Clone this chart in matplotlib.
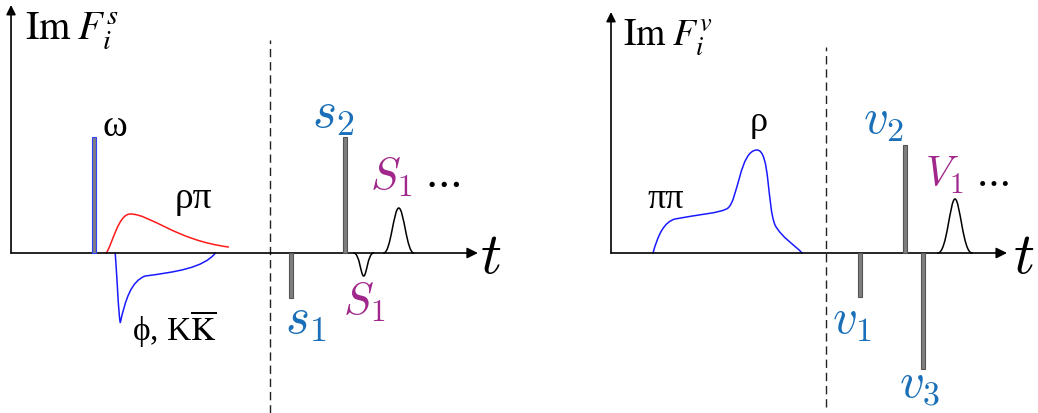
import matplotlib
matplotlib.use('Agg')
import matplotlib.pyplot as plt
from matplotlib.path import Path
from matplotlib.patches import PathPatch

BLUE_TXT = '#1a6fb8'
MAGENTA = '#a0288c'

# ---- scalar form factor panel (left) ----
# pole positions / residues (t, Im F)
s_pole_t = [8.3, 27.9, 33.3]
s_pole_h = [11.6, -4.5, 11.6]
s_pole_edge = ['#3040ff', '#555555', '#555555']

# rho-pi cut, bezier nodes (t, Im F)
rhopi_pts = [(9.5, 0.0), (10.1, 0.8), (10.7, 3.9), (11.9, 3.9),
             (13.9, 3.9), (16.4, 1.3), (21.7, 0.6)]
# phi, KKbar cut
phikk_pts = [(10.4, 0.0), (10.6, -2.7), (10.7, -5.7), (10.9, -7.0),
             (11.4, -4.7), (12.0, -2.8), (13.4, -2.3),
             (16.4, -1.9), (19.2, -1.5), (20.4, 0.0)]
# S1 resonance bumps
S1_dip_pts = [(34.2, 0.0), (34.8, 0.0), (34.9, -2.3), (35.2, -2.3),
              (35.5, -2.3), (35.6, 0.0), (36.2, 0.0)]
S1_bump_pts = [(37.2, 0.0), (37.9, 0.0), (38.2, 4.5), (38.7, 4.5),
               (39.2, 4.5), (39.5, 0.0), (40.2, 0.0)]

# ---- vector form factor panel (right) ----
v_pole_t = [24.9, 29.4, 31.2]
v_pole_h = [-4.4, 10.8, -11.6]

rho_pts = [(4.2, 0.0), (4.7, 1.8), (5.3, 3.1), (6.4, 3.4),
           (8.4, 3.8), (11.1, 4.0), (11.7, 4.5),
           (12.7, 5.3), (12.9, 10.3), (14.6, 10.3),
           (15.9, 10.3), (15.6, 4.8), (16.4, 2.8),
           (17.1, 1.5), (18.4, 0.8), (19.1, 0.0)]
V1_bump_pts = [(32.7, 0.0), (33.6, 0.0), (33.9, 5.4), (34.4, 5.4),
               (34.9, 5.4), (35.2, 0.0), (36.1, 0.0)]


def bezier(ax, pts, color, lw=1.1):
    codes = [Path.MOVETO] + [Path.CURVE4] * (len(pts) - 1)
    ax.add_patch(PathPatch(Path(pts, codes), fill=False, edgecolor=color,
                           lw=lw, capstyle='round'))


def frame(ax, xtip, ytip, xdash, ydash_top, ydash_bot):
    ax.annotate('', xy=(xtip, 0), xytext=(0, 0),
                arrowprops=dict(arrowstyle='-|>', lw=1.2, color='black',
                                mutation_scale=16, shrinkA=0, shrinkB=0))
    ax.annotate('', xy=(0, ytip), xytext=(0, 0),
                arrowprops=dict(arrowstyle='-|>', lw=1.2, color='black',
                                mutation_scale=14, shrinkA=0, shrinkB=0))
    ax.plot([xdash, xdash], [ydash_bot, ydash_top], color='#222222',
            lw=1.0, dashes=(6, 3.5))


fig = plt.figure(figsize=(10.38, 4.13), dpi=100)
ax1 = fig.add_axes([0, 0, 520 / 1038, 1])
ax2 = fig.add_axes([519 / 1038, 0, 519 / 1038, 1])
ax1.set_xlim(-1.1, 50.8)
ax1.set_ylim(-16.0, 25.3)
ax2.set_xlim(-9.2, 42.7)
ax2.set_ylim(-16.0, 25.3)
for ax in (ax1, ax2):
    ax.axis('off')

serif = dict(family='Liberation Serif', color='black')

# left panel
frame(ax1, 46.6, 24.8, 25.8, 21.3, -16.0)
ax1.bar(s_pole_t, s_pole_h, width=0.4, color='#7f7f7f',
        edgecolor=s_pole_edge, lw=0.8, zorder=3)
bezier(ax1, rhopi_pts, '#ff1a1a')
bezier(ax1, phikk_pts, '#1a1aff')
bezier(ax1, S1_dip_pts, 'black')
bezier(ax1, S1_bump_pts, 'black')

ax1.text(1.4, 22.2, r'$\mathrm{Im}\;F_i^{s}$', fontsize=29,
         math_fontfamily='stix', ha='left', va='center')
ax1.text(10.4, 12.6, 'ω', fontsize=27, ha='center', va='center', **serif)
ax1.text(18.2, 5.4, 'ρπ', fontsize=27, ha='center', va='center', **serif)
ax1.text(16.3, -7.6, r'ϕ, K$\overline{\mathrm{K}}$', fontsize=24,
         math_fontfamily='stix', ha='center', va='center', **serif)
ax1.text(29.4, -6.6, r'$s_1$', fontsize=37, math_fontfamily='cm',
         color=BLUE_TXT, ha='center', va='center')
ax1.text(32.1, 14.0, r'$s_2$', fontsize=37, math_fontfamily='cm',
         color=BLUE_TXT, ha='center', va='center')
ax1.text(35.2, -4.9, r'$S_1$', fontsize=32, math_fontfamily='cm',
         color=MAGENTA, ha='center', va='center')
ax1.text(37.9, 7.6, r'$S_1$', fontsize=32, math_fontfamily='cm',
         color=MAGENTA, ha='center', va='center')
ax1.text(43.0, 7.1, r'$\cdots$', fontsize=30, math_fontfamily='cm',
         ha='center', va='center')
ax1.text(47.9, -0.4, r'$t$', fontsize=42, math_fontfamily='cm',
         ha='center', va='center')

# right panel
frame(ax2, 39.6, 24.1, 21.5, 20.6, -15.4)
ax2.bar(v_pole_t, v_pole_h, width=0.4, color='#7f7f7f',
        edgecolor='#555555', lw=0.8, zorder=3)
bezier(ax2, rho_pts, '#1a1aff')
bezier(ax2, V1_bump_pts, 'black')

ax2.text(1.2, 21.5, r'$\mathrm{Im}\;F_i^{v}$', fontsize=27,
         math_fontfamily='stix', ha='left', va='center')
ax2.text(5.5, 5.3, 'ππ', fontsize=26, ha='center', va='center', **serif)
ax2.text(14.8, 13.0, 'ρ', fontsize=26, ha='center', va='center', **serif)
ax2.text(24.1, -6.7, r'$v_1$', fontsize=35, math_fontfamily='cm',
         color=BLUE_TXT, ha='center', va='center')
ax2.text(27.2, 13.3, r'$v_2$', fontsize=35, math_fontfamily='cm',
         color=BLUE_TXT, ha='center', va='center')
ax2.text(30.9, -13.0, r'$v_3$', fontsize=35, math_fontfamily='cm',
         color=BLUE_TXT, ha='center', va='center')
ax2.text(33.3, 7.8, r'$V_1$', fontsize=30, math_fontfamily='cm',
         color=MAGENTA, ha='center', va='center')
ax2.text(38.1, 7.3, r'$\cdots$', fontsize=28, math_fontfamily='cm',
         ha='center', va='center')
ax2.text(41.3, -0.4, r'$t$', fontsize=42, math_fontfamily='cm',
         ha='center', va='center')

fig.savefig('out.png', dpi=100, facecolor='white')
